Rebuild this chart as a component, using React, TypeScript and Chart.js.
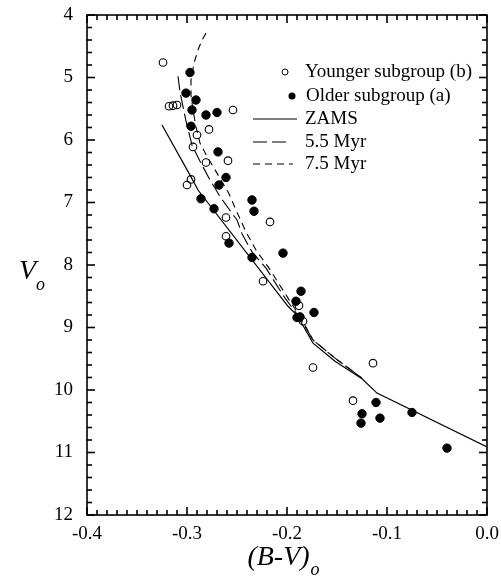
import React, { useEffect, useRef } from "react";
import { Chart, registerables } from "chart.js";

Chart.register(...registerables);

// ---- Data ----
const youngerBV = [-0.324, -0.318, -0.314, -0.310, -0.254, -0.278, -0.290, -0.294, -0.259, -0.281, -0.296, -0.300, -0.261, -0.217, -0.261, -0.224, -0.188, -0.184, -0.174, -0.114, -0.134];
const youngerV = [4.76, 5.46, 5.45, 5.44, 5.52, 5.83, 5.92, 6.11, 6.33, 6.36, 6.63, 6.72, 7.24, 7.31, 7.54, 8.26, 8.65, 8.90, 9.64, 9.57, 10.17];

const olderBV = [-0.297, -0.301, -0.291, -0.295, -0.281, -0.270, -0.296, -0.269, -0.261, -0.268, -0.286, -0.273, -0.235, -0.233, -0.258, -0.235, -0.204, -0.186, -0.191, -0.173, -0.190, -0.187, -0.111, -0.125, -0.126, -0.107, -0.075, -0.040];
const olderV = [4.92, 5.25, 5.36, 5.52, 5.60, 5.56, 5.78, 6.19, 6.60, 6.72, 6.94, 7.10, 6.96, 7.14, 7.65, 7.88, 7.81, 8.42, 8.58, 8.76, 8.84, 8.83, 10.20, 10.38, 10.53, 10.45, 10.36, 10.93];

const zamsBV = [-0.325, -0.296, -0.289, -0.199, -0.190, -0.174, -0.152, -0.125, -0.110, 0.0];
const zamsV = [5.76, 6.59, 6.80, 8.66, 8.80, 9.25, 9.54, 9.82, 10.05, 10.91];

const iso55BV = [-0.309, -0.307, -0.301, -0.295, -0.287, -0.277, -0.266, -0.250, -0.245, -0.235, -0.221, -0.202, -0.187, -0.174, -0.152, -0.125];
const iso55V = [4.98, 5.23, 5.70, 6.08, 6.34, 6.64, 6.93, 7.28, 7.50, 7.79, 8.05, 8.53, 8.85, 9.20, 9.49, 9.81];

const iso75BV = [-0.281, -0.285, -0.289, -0.293, -0.296, -0.296, -0.294, -0.291, -0.287, -0.279, -0.270, -0.258, -0.251, -0.241, -0.231, -0.218, -0.199, -0.186, -0.174, -0.152, -0.125];
const iso75V = [4.29, 4.40, 4.56, 4.77, 5.04, 5.28, 5.52, 5.79, 6.05, 6.29, 6.53, 6.86, 7.12, 7.47, 7.76, 8.05, 8.53, 8.85, 9.20, 9.49, 9.81];

const xRange = [-0.4, 0.0];
const yRange = [4, 12];
const xMinorStep = 0.01;
const yMinorStep = 0.2;

const legendLabels = ["Younger subgroup (b)", "Older subgroup (a)", "ZAMS", "5.5 Myr", "7.5 Myr"];
const xTitle = "(B-V)";
const yTitle = "V";
const subTitle = "o";

const FONT = '"Liberation Serif", "Times New Roman", Times, serif';

const zip = (xs: number[], ys: number[]) => xs.map((x, i) => ({ x, y: ys[i] }));

const decorPlugin = {
  id: "decor",
  afterDraw(chart: any) {
    const ctx: CanvasRenderingContext2D = chart.ctx;
    const { left, right, top, bottom } = chart.chartArea;
    const xs = chart.scales.x;
    const ys = chart.scales.y;
    ctx.save();
    ctx.setLineDash([]);
    ctx.strokeStyle = "#000";
    ctx.fillStyle = "#000";
    // ticks (inside, all four sides)
    const tw = 1.6;
    const nx = Math.round((xRange[1] - xRange[0]) / xMinorStep);
    for (let i = 0; i <= nx; i++) {
      const px = xs.getPixelForValue(xRange[0] + i * xMinorStep);
      const len = i % 10 === 0 ? 8 : 5;
      ctx.fillRect(px - tw / 2, bottom - len, tw, len);
      ctx.fillRect(px - tw / 2, top, tw, len);
    }
    const ny = Math.round((yRange[1] - yRange[0]) / yMinorStep);
    for (let i = 0; i <= ny; i++) {
      const py = ys.getPixelForValue(yRange[0] + i * yMinorStep);
      const len = i % 5 === 0 ? 8 : 5;
      ctx.fillRect(left, py - tw / 2, len, tw);
      ctx.fillRect(right - len, py - tw / 2, len, tw);
    }
    // frame
    ctx.lineWidth = 1.6;
    ctx.strokeRect(left, top, right - left, bottom - top);

    // axis titles
    ctx.textBaseline = "alphabetic";
    ctx.textAlign = "left";
    ctx.font = `italic 28px ${FONT}`;
    const xtW = ctx.measureText(xTitle).width;
    ctx.font = `italic 18px ${FONT}`;
    const subW = ctx.measureText(subTitle).width;
    const cx = (left + right) / 2 - 4;
    const startX = cx - (xtW + subW) / 2;
    ctx.font = `italic 28px ${FONT}`;
    ctx.fillText(xTitle, startX, 565);
    ctx.font = `italic 18px ${FONT}`;
    ctx.fillText(subTitle, startX + xtW + 1, 575);

    ctx.font = `italic 28px ${FONT}`;
    ctx.fillText(yTitle, 19, 279);
    const vW = ctx.measureText(yTitle).width;
    ctx.font = `italic 18px ${FONT}`;
    ctx.fillText(subTitle, 19 + vW, 290);

    // legend
    ctx.font = `19px ${FONT}`;
    ctx.textBaseline = "middle";
    const rows = [72, 96, 119, 142, 164];
    ctx.lineWidth = 1;
    ctx.beginPath();
    ctx.arc(285, rows[0], 3, 0, Math.PI * 2);
    ctx.stroke();
    ctx.beginPath();
    ctx.arc(292, rows[1], 3.5, 0, Math.PI * 2);
    ctx.fill();
    ctx.lineWidth = 1.2;
    ctx.beginPath();
    ctx.moveTo(253, rows[2]);
    ctx.lineTo(297, rows[2]);
    ctx.stroke();
    ctx.setLineDash([14, 5]);
    ctx.beginPath();
    ctx.moveTo(253, rows[3]);
    ctx.lineTo(288, rows[3]);
    ctx.stroke();
    ctx.setLineDash([7, 5]);
    ctx.beginPath();
    ctx.moveTo(253, rows[4]);
    ctx.lineTo(293, rows[4]);
    ctx.stroke();
    ctx.setLineDash([]);
    ctx.fillText(legendLabels[0], 305, rows[0]);
    ctx.fillText(legendLabels[1], 306, rows[1]);
    ctx.fillText(legendLabels[2], 305, rows[2]);
    ctx.fillText(legendLabels[3], 305, rows[3]);
    ctx.fillText(legendLabels[4], 305, rows[4]);
    ctx.restore();
  },
};

export default function App() {
  const ref = useRef<HTMLCanvasElement | null>(null);
  useEffect(() => {
    if (!ref.current) return;
    const chart = new Chart(ref.current, {
      type: "scatter",
      data: {
        datasets: [
          {
            label: legendLabels[1],
            data: zip(olderBV, olderV),
            pointRadius: 4.2,
            pointBackgroundColor: "#000",
            pointBorderColor: "#000",
            pointBorderWidth: 1,
            showLine: false,
          },
          {
            label: legendLabels[0],
            data: zip(youngerBV, youngerV),
            pointRadius: 3.8,
            pointBackgroundColor: "rgba(0,0,0,0)",
            pointBorderColor: "#000",
            pointBorderWidth: 1.1,
            showLine: false,
          },
          {
            label: legendLabels[2],
            data: zip(zamsBV, zamsV),
            showLine: true,
            pointRadius: 0,
            borderColor: "#000",
            borderWidth: 1.2,
            tension: 0,
          },
          {
            label: legendLabels[3],
            data: zip(iso55BV, iso55V),
            showLine: true,
            pointRadius: 0,
            borderColor: "#000",
            borderWidth: 1.1,
            borderDash: [14, 5],
            tension: 0,
          },
          {
            label: legendLabels[4],
            data: zip(iso75BV, iso75V),
            showLine: true,
            pointRadius: 0,
            borderColor: "#000",
            borderWidth: 1.1,
            borderDash: [7, 5],
            tension: 0,
          },
        ],
      },
      options: {
        animation: false,
        responsive: false,
        devicePixelRatio: 1,
        layout: { padding: { top: 15, right: 14, left: 0, bottom: 0 } },
        plugins: { legend: { display: false }, tooltip: { enabled: false } },
        scales: {
          x: {
            type: "linear",
            position: "bottom",
            min: xRange[0],
            max: xRange[1],
            grid: { display: false, drawTicks: false },
            border: { display: false },
            ticks: {
              stepSize: 0.1,
              padding: 8,
              color: "#000",
              maxRotation: 0,
              font: { family: FONT, size: 19 },
              callback: (v: any) => (Math.abs(Number(v)) < 1e-9 ? "0.0" : Number(v).toFixed(1)),
            },
            afterFit: (s: any) => {
              s.height = 64;
              s.paddingLeft = 0;
              s.paddingRight = 0;
            },
          },
          y: {
            type: "linear",
            position: "left",
            min: yRange[0],
            max: yRange[1],
            reverse: true,
            grid: { display: false, drawTicks: false },
            border: { display: false },
            ticks: {
              stepSize: 1,
              padding: 14,
              color: "#000",
              font: { family: FONT, size: 19 },
            },
            afterFit: (s: any) => {
              s.width = 87;
              s.paddingTop = 0;
              s.paddingBottom = 0;
            },
          },
        },
      },
      plugins: [decorPlugin],
    });
    return () => chart.destroy();
  }, []);
  return (
    <div style={{ position: "absolute", left: 0, top: 0, width: 501, height: 579, background: "#fff" }}>
      <canvas ref={ref} width={501} height={579} style={{ display: "block" }} />
    </div>
  );
}
